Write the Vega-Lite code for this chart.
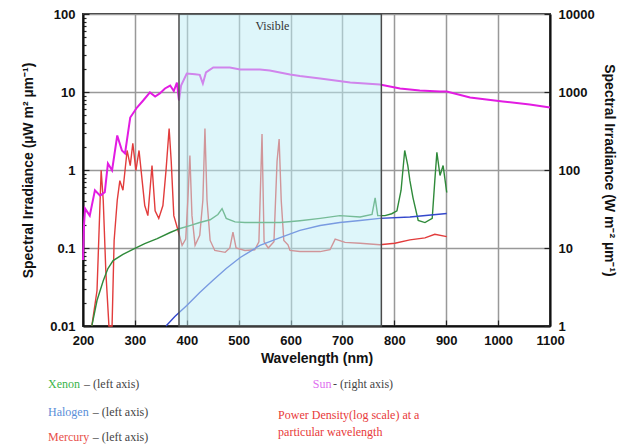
{
  "$schema": "https://vega.github.io/schema/vega-lite/v6.json",
  "width": 467,
  "height": 312,
  "autosize": {"type": "none"},
  "padding": {"left": 83, "top": 14, "right": 69, "bottom": 120},
  "background": "white",
  "config": {
    "font": "Liberation Sans",
    "view": {"stroke": "#333", "strokeWidth": 2},
    "axis": {
      "domainColor": "#111", "domainWidth": 2, "tickColor": "#222", "tickWidth": 1.2,
      "labelFont": "Liberation Sans", "labelFontWeight": "bold", "labelFontSize": 13, "labelColor": "#111",
      "titleFont": "Liberation Sans", "titleFontWeight": "bold", "titleFontSize": 14, "titleColor": "#111",
      "gridColor": "#999", "gridWidth": 1.5, "labelOverlap": false, "labelBound": false, "labelFlush": false
    }
  },
  "datasets": {
    "lamps": [
      {"series": "Mercury", "nm": 217, "v": 0.01}, {"series": "Mercury", "nm": 227, "v": 0.0285}, {"series": "Mercury", "nm": 235, "v": 0.99}, {"series": "Mercury", "nm": 239, "v": 0.41}, {"series": "Mercury", "nm": 244, "v": 0.05}, {"series": "Mercury", "nm": 250, "v": 0.01}, {"series": "Mercury", "nm": 256, "v": 0.01}, {"series": "Mercury", "nm": 260, "v": 0.125}, {"series": "Mercury", "nm": 266, "v": 0.41}, {"series": "Mercury", "nm": 271, "v": 0.73}, {"series": "Mercury", "nm": 277, "v": 0.55}, {"series": "Mercury", "nm": 285, "v": 1.78}, {"series": "Mercury", "nm": 291, "v": 1.14}, {"series": "Mercury", "nm": 296, "v": 2.19}, {"series": "Mercury", "nm": 302, "v": 0.99}, {"series": "Mercury", "nm": 308, "v": 1.78}, {"series": "Mercury", "nm": 314, "v": 0.73}, {"series": "Mercury", "nm": 319, "v": 0.35}, {"series": "Mercury", "nm": 325, "v": 0.26}, {"series": "Mercury", "nm": 333, "v": 1.14}, {"series": "Mercury", "nm": 339, "v": 0.3}, {"series": "Mercury", "nm": 346, "v": 0.24}, {"series": "Mercury", "nm": 354, "v": 0.35}, {"series": "Mercury", "nm": 360, "v": 0.99}, {"series": "Mercury", "nm": 366, "v": 3.4}, {"series": "Mercury", "nm": 370, "v": 1.3}, {"series": "Mercury", "nm": 375, "v": 0.26}, {"series": "Mercury", "nm": 383, "v": 0.17}, {"series": "Mercury", "nm": 391, "v": 0.108}, {"series": "Mercury", "nm": 398, "v": 0.13}, {"series": "Mercury", "nm": 402, "v": 0.41}, {"series": "Mercury", "nm": 406, "v": 1.53}, {"series": "Mercury", "nm": 410, "v": 0.26}, {"series": "Mercury", "nm": 416, "v": 0.108}, {"series": "Mercury", "nm": 425, "v": 0.145}, {"series": "Mercury", "nm": 431, "v": 0.41}, {"series": "Mercury", "nm": 435, "v": 3.4}, {"series": "Mercury", "nm": 439, "v": 0.41}, {"series": "Mercury", "nm": 445, "v": 0.125}, {"series": "Mercury", "nm": 454, "v": 0.093}, {"series": "Mercury", "nm": 474, "v": 0.088}, {"series": "Mercury", "nm": 483, "v": 0.1}, {"series": "Mercury", "nm": 489, "v": 0.16}, {"series": "Mercury", "nm": 495, "v": 0.1}, {"series": "Mercury", "nm": 512, "v": 0.093}, {"series": "Mercury", "nm": 531, "v": 0.095}, {"series": "Mercury", "nm": 539, "v": 0.12}, {"series": "Mercury", "nm": 545, "v": 2.9}, {"series": "Mercury", "nm": 549, "v": 0.12}, {"series": "Mercury", "nm": 557, "v": 0.1}, {"series": "Mercury", "nm": 568, "v": 0.12}, {"series": "Mercury", "nm": 574, "v": 1.3}, {"series": "Mercury", "nm": 578, "v": 2.5}, {"series": "Mercury", "nm": 582, "v": 0.41}, {"series": "Mercury", "nm": 587, "v": 0.125}, {"series": "Mercury", "nm": 595, "v": 0.11}, {"series": "Mercury", "nm": 599, "v": 0.093}, {"series": "Mercury", "nm": 618, "v": 0.09}, {"series": "Mercury", "nm": 657, "v": 0.09}, {"series": "Mercury", "nm": 676, "v": 0.095}, {"series": "Mercury", "nm": 686, "v": 0.13}, {"series": "Mercury", "nm": 705, "v": 0.118}, {"series": "Mercury", "nm": 734, "v": 0.115}, {"series": "Mercury", "nm": 772, "v": 0.11}, {"series": "Mercury", "nm": 801, "v": 0.115}, {"series": "Mercury", "nm": 830, "v": 0.127}, {"series": "Mercury", "nm": 859, "v": 0.135}, {"series": "Mercury", "nm": 878, "v": 0.15}, {"series": "Mercury", "nm": 901, "v": 0.14},
      {"series": "Xenon", "nm": 217, "v": 0.01}, {"series": "Xenon", "nm": 227, "v": 0.0212}, {"series": "Xenon", "nm": 239, "v": 0.038}, {"series": "Xenon", "nm": 248, "v": 0.0546}, {"series": "Xenon", "nm": 258, "v": 0.069}, {"series": "Xenon", "nm": 277, "v": 0.083}, {"series": "Xenon", "nm": 300, "v": 0.0986}, {"series": "Xenon", "nm": 319, "v": 0.114}, {"series": "Xenon", "nm": 343, "v": 0.132}, {"series": "Xenon", "nm": 368, "v": 0.158}, {"series": "Xenon", "nm": 387, "v": 0.178}, {"series": "Xenon", "nm": 406, "v": 0.194}, {"series": "Xenon", "nm": 425, "v": 0.212}, {"series": "Xenon", "nm": 445, "v": 0.23}, {"series": "Xenon", "nm": 460, "v": 0.269}, {"series": "Xenon", "nm": 468, "v": 0.32}, {"series": "Xenon", "nm": 476, "v": 0.24}, {"series": "Xenon", "nm": 493, "v": 0.216}, {"series": "Xenon", "nm": 512, "v": 0.212}, {"series": "Xenon", "nm": 541, "v": 0.212}, {"series": "Xenon", "nm": 580, "v": 0.212}, {"series": "Xenon", "nm": 618, "v": 0.224}, {"series": "Xenon", "nm": 657, "v": 0.24}, {"series": "Xenon", "nm": 695, "v": 0.26}, {"series": "Xenon", "nm": 734, "v": 0.25}, {"series": "Xenon", "nm": 757, "v": 0.27}, {"series": "Xenon", "nm": 763, "v": 0.44}, {"series": "Xenon", "nm": 768, "v": 0.26}, {"series": "Xenon", "nm": 782, "v": 0.26}, {"series": "Xenon", "nm": 795, "v": 0.275}, {"series": "Xenon", "nm": 805, "v": 0.3}, {"series": "Xenon", "nm": 813, "v": 0.55}, {"series": "Xenon", "nm": 820, "v": 1.78}, {"series": "Xenon", "nm": 826, "v": 1.14}, {"series": "Xenon", "nm": 830, "v": 0.73}, {"series": "Xenon", "nm": 836, "v": 0.44}, {"series": "Xenon", "nm": 846, "v": 0.225}, {"series": "Xenon", "nm": 859, "v": 0.212}, {"series": "Xenon", "nm": 873, "v": 0.24}, {"series": "Xenon", "nm": 878, "v": 0.73}, {"series": "Xenon", "nm": 882, "v": 1.68}, {"series": "Xenon", "nm": 888, "v": 0.85}, {"series": "Xenon", "nm": 894, "v": 1.14}, {"series": "Xenon", "nm": 901, "v": 0.515},
      {"series": "Halogen", "nm": 360, "v": 0.01}, {"series": "Halogen", "nm": 377, "v": 0.0132}, {"series": "Halogen", "nm": 400, "v": 0.0183}, {"series": "Halogen", "nm": 425, "v": 0.0269}, {"series": "Halogen", "nm": 450, "v": 0.0383}, {"series": "Halogen", "nm": 476, "v": 0.0546}, {"series": "Halogen", "nm": 503, "v": 0.0755}, {"series": "Halogen", "nm": 541, "v": 0.108}, {"series": "Halogen", "nm": 580, "v": 0.136}, {"series": "Halogen", "nm": 618, "v": 0.168}, {"series": "Halogen", "nm": 657, "v": 0.194}, {"series": "Halogen", "nm": 695, "v": 0.212}, {"series": "Halogen", "nm": 734, "v": 0.225}, {"series": "Halogen", "nm": 772, "v": 0.24}, {"series": "Halogen", "nm": 830, "v": 0.25}, {"series": "Halogen", "nm": 901, "v": 0.277}
    ],
    "sun": [
      {"nm": 200, "v": 7}, {"nm": 202, "v": 20}, {"nm": 204, "v": 32}, {"nm": 213, "v": 26}, {"nm": 223, "v": 55}, {"nm": 233, "v": 47}, {"nm": 242, "v": 52}, {"nm": 248, "v": 121}, {"nm": 256, "v": 99}, {"nm": 266, "v": 277}, {"nm": 275, "v": 178}, {"nm": 281, "v": 163}, {"nm": 291, "v": 471}, {"nm": 304, "v": 632}, {"nm": 316, "v": 778}, {"nm": 329, "v": 986}, {"nm": 339, "v": 876}, {"nm": 348, "v": 958}, {"nm": 358, "v": 1109}, {"nm": 368, "v": 1211}, {"nm": 375, "v": 1030}, {"nm": 381, "v": 1324}, {"nm": 385, "v": 778}, {"nm": 389, "v": 1211}, {"nm": 400, "v": 1726}, {"nm": 416, "v": 1690}, {"nm": 425, "v": 1660}, {"nm": 431, "v": 1285}, {"nm": 437, "v": 1780}, {"nm": 451, "v": 2060}, {"nm": 483, "v": 2060}, {"nm": 503, "v": 1940}, {"nm": 541, "v": 1940}, {"nm": 560, "v": 1888}, {"nm": 599, "v": 1675}, {"nm": 618, "v": 1600}, {"nm": 657, "v": 1490}, {"nm": 715, "v": 1324}, {"nm": 772, "v": 1250}, {"nm": 811, "v": 1109}, {"nm": 849, "v": 1045}, {"nm": 888, "v": 1014}, {"nm": 901, "v": 1014}, {"nm": 946, "v": 850}, {"nm": 1009, "v": 755}, {"nm": 1061, "v": 692}, {"nm": 1100, "v": 632}
    ],
    "band": [{"start": 385, "end": 775}],
    "notes": [
      {"t": "Xenon", "role": "Xenon", "nm": 132.6, "v": 0.00183},
      {"t": "– (left axis)", "role": "note", "nm": 202, "v": 0.00183},
      {"t": "Halogen", "role": "Halogen", "nm": 132.6, "v": 0.0008},
      {"t": "– (left axis)", "role": "note", "nm": 219, "v": 0.0008},
      {"t": "Mercury", "role": "Mercury", "nm": 132.6, "v": 0.000372},
      {"t": "– (left axis)", "role": "note", "nm": 219, "v": 0.000372},
      {"t": "Sun", "role": "Sun", "nm": 643, "v": 0.00183},
      {"t": "- (right axis)", "role": "note", "nm": 682, "v": 0.00183},
      {"t": "Power Density(log scale) at a", "role": "Power", "nm": 576, "v": 0.000733},
      {"t": "particular wavelength", "role": "Power", "nm": 576, "v": 0.000444}
    ],
    "title": [{"t": "Visible", "nm": 565, "v": 71}]
  },
  "layer": [
    {
      "data": {"name": "lamps"},
      "mark": {"type": "line", "strokeWidth": 1.4, "clip": false},
      "encoding": {
        "x": {
          "field": "nm", "type": "quantitative",
          "scale": {"domain": [200, 1100], "nice": false, "zero": false},
          "axis": {
            "title": "Wavelength (nm)",
            "values": [200, 300, 400, 500, 600, 700, 800, 900, 1000, 1100],
            "format": "d",
            "labelOverlap": false,
            "grid": true,
            "tickSize": -6,
            "labelPadding": 14,
            "titlePadding": 4
          }
        },
        "y": {
          "field": "v", "type": "quantitative",
          "scale": {"type": "log", "domain": [0.01, 100], "nice": false},
          "axis": {
            "orient": "left",
            "title": "Spectral Irradiance (µW m² µm⁻¹)",
            "values": [0.01,0.02,0.03,0.04,0.05,0.06,0.07,0.08,0.09,0.1,0.2,0.3,0.4,0.5,0.6,0.7,0.8,0.9,1,2,3,4,5,6,7,8,9,10,20,30,40,50,60,70,80,90,100],
            "labelExpr": "indexof([0.01,0.1,1,10,100], datum.value) >= 0 ? format(datum.value, '~g') : ''",
            "labelOverlap": false,
            "grid": true,
            "gridOpacity": {"condition": {"test": "indexof([0.01,0.1,1,10,100], datum.value) >= 0", "value": 1}, "value": 0},
            "tickSize": {"condition": {"test": "indexof([0.01,0.1,1,10,100], datum.value) >= 0", "value": -6}, "value": -3},
            "labelPadding": 14,
            "titlePadding": 14
          }
        },
        "color": {
          "field": "series", "type": "nominal",
          "scale": {"domain": ["Mercury", "Xenon", "Halogen"], "range": ["#e23c3c", "#2f8a3a", "#3448cc"]},
          "legend": null
        }
      }
    },
    {
      "data": {"name": "sun"},
      "mark": {"type": "line", "strokeWidth": 2, "color": "#e21ce2"},
      "encoding": {
        "x": {"field": "nm", "type": "quantitative", "scale": {"domain": [200, 1100], "nice": false, "zero": false}},
        "y": {
          "field": "v", "type": "quantitative",
          "scale": {"type": "log", "domain": [1, 10000], "nice": false},
          "axis": {
            "orient": "right",
            "title": "Spectral Irradiance (W m⁻² µm⁻¹)",
            "titleAngle": 90,
            "values": [1, 10, 100, 1000, 10000],
            "labelExpr": "format(datum.value, '~g')",
            "grid": false,
            "tickSize": -6,
            "labelPadding": 14,
            "titlePadding": 7
          }
        }
      }
    },
    {
      "data": {"name": "band"},
      "mark": {"type": "rect", "fill": "#bdedf5", "fillOpacity": 0.5, "stroke": "#4a4a4a", "strokeWidth": 1.5},
      "encoding": {
        "x": {"field": "start", "type": "quantitative", "scale": {"domain": [200, 1100], "nice": false, "zero": false}},
        "x2": {"field": "end"}
      }
    },
    {
      "layer": [
        {
          "data": {"name": "title"},
          "mark": {"type": "text", "font": "Liberation Serif", "fontSize": 12, "color": "#333", "align": "center", "baseline": "middle"},
          "encoding": {
            "x": {"field": "nm", "type": "quantitative", "scale": {"domain": [200, 1100], "nice": false, "zero": false}},
            "y": {"field": "v", "type": "quantitative", "scale": {"type": "log", "domain": [0.01, 100], "nice": false}, "axis": null},
            "text": {"field": "t"}
          }
        },
        {
          "data": {"name": "notes"},
          "mark": {"type": "text", "font": "Liberation Serif", "fontSize": 12, "align": "left", "baseline": "middle"},
          "encoding": {
            "x": {"field": "nm", "type": "quantitative", "scale": {"domain": [200, 1100], "nice": false, "zero": false}},
            "y": {"field": "v", "type": "quantitative", "scale": {"type": "log", "domain": [0.01, 100], "nice": false}, "axis": null},
            "text": {"field": "t"},
            "fill": {
              "field": "role", "type": "nominal",
              "scale": {"domain": ["Xenon", "Halogen", "Mercury", "Sun", "Power", "note"], "range": ["#3ab54a", "#5a8ed8", "#e8504a", "#e070f0", "#e83a3a", "#444444"]},
              "legend": null
            }
          }
        }
      ]
    }
  ],
  "resolve": {"scale": {"y": "independent"}}
}
